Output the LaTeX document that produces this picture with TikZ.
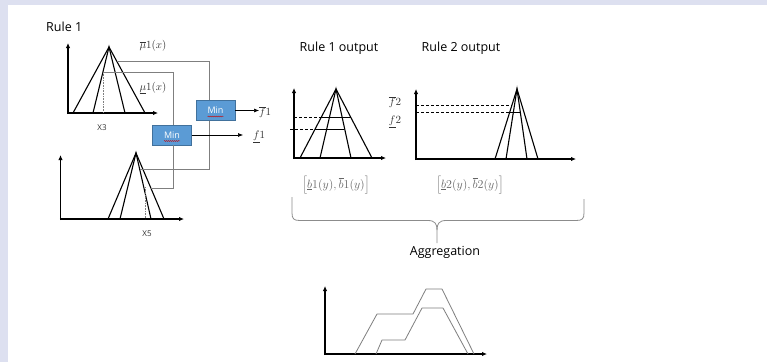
\documentclass[tikz,border=0pt]{standalone}
\usepackage{fontspec}
\setsansfont{Open Sans}
\usetikzlibrary{arrows.meta,decorations.pathmorphing,calc}
\definecolor{bandc}{HTML}{DDE0F0}
\definecolor{minfill}{HTML}{5B9BD5}
\definecolor{minedge}{HTML}{41719C}
\definecolor{wirec}{HTML}{7F7F7F}
\definecolor{lbl}{HTML}{333333}
\definecolor{bracec}{HTML}{8C8C8C}
\begin{document}
\begin{tikzpicture}[x=1pt,y=-1pt,
  axis/.style={line width=1.4pt,-{Latex[length=5pt,width=4.5pt]}},
  tri/.style={line width=1.1pt,line join=miter},
  wire/.style={draw=wirec,line width=0.7pt},
  minbox/.style={draw=minedge,fill=minfill,line width=0.6pt,minimum width=39pt,minimum height=20pt,inner sep=0pt,text=white,font=\sffamily\fontsize{9}{10}\selectfont},
  title/.style={font=\sffamily\fontsize{12.5}{14}\selectfont,inner sep=0pt},
  small/.style={font=\sffamily\fontsize{8}{9}\selectfont,inner sep=0pt,text=lbl},
  mlab/.style={inner sep=0pt,font=\fontsize{11}{13}\selectfont,text=lbl},
  ilab/.style={inner sep=0pt,font=\fontsize{12.5}{14}\selectfont,text=lbl!75},
  outarrow/.style={line width=0.6pt,-{Latex[length=5pt,width=4pt]}},
  dashln/.style={dash pattern=on 3pt off 2pt,line width=0.8pt},
  solidln/.style={line width=0.8pt},
  squiggle/.style={red!80!black,line width=0.4pt,decorate,decoration={snake,amplitude=0.5pt,segment length=2pt}},
  aggl/.style={draw=wirec,line width=0.8pt,line join=round}
]
\fill[white] (0,0) rectangle (767,362);
\fill[bandc] (0,0) rectangle (767,5);
\fill[bandc] (0,0) rectangle (8,362);
\useasboundingbox (0,0) rectangle (767,362);

% ---------- Rule 1 inputs ----------
\node[title,anchor=west] (r1) at (46,27) {Rule 1};

% top input graph
\draw[axis] (68,114) -- (68,43);
\draw[axis] (67.3,113) -- (158,113);
\coordinate (a1) at (109,47);
\draw[tri] (73,113) -- (a1) -- (145,113);
\draw[tri] (93,113) -- (a1) -- (125,113);
\coordinate (t1a) at (117,61);
\coordinate (t1b) at (103,72);
\draw[wirec,line width=0.6pt,densely dotted] (t1b) -- (103,113);
\node[small] (x3) at (102,128) {X3};
\node[mlab] (mu1) at (153,46) {$\overline{\mu}1(x)$};
\node[mlab] (mu2) at (153,88) {$\underline{\mu}1(x)$};

% bottom input graph
\draw[axis] (60.5,220) -- (60.5,155);
\draw[axis] (59.8,219) -- (184,219);
\coordinate (a2) at (136,153);
\draw[tri] (108,219) -- (a2) -- (164,219);
\draw[tri] (120,219) -- (a2) -- (151,219);
\draw[line width=1.8pt] (120,219) -- (151,219);
\coordinate (b1a) at (140,169);
\coordinate (b1b) at (150,188);
\draw[wirec,line width=0.6pt,densely dotted] (145,187) -- (145,219);
\node[small] (x5) at (147,234) {X5};

% Min boxes
\node[minbox] (minU) at (215.5,110.5) {Min};
\node[minbox] (minL) at (172,135) {Min};
\draw[squiggle] ($(minU.center)+(-8,6)$) -- ($(minU.center)+(8,6)$);
\draw[squiggle] ($(minL.center)+(-8,6)$) -- ($(minL.center)+(8,6)$);

\coordinate (wu) at (209,61);
\coordinate (wl) at (173,72);
\draw[wire] (t1a) -- (wu) -- (wu |- minU.north);
\draw[wire] (t1b) -- (wl) -- (wl |- minL.north);
\draw[wire] (minU.south -| wu) -- (wu |- b1a) -- (b1a);
\draw[wire] (minL.south -| wl) -- (wl |- b1b) -- (b1b);

% outputs f1
\node[mlab,anchor=west] (fU) at (259,112) {$\overline{f}1$};
\node[mlab,anchor=west] (fL) at (253,137) {$\underline{f}1$};
\draw[outarrow] (minU.east) -- (minU.east -| fU.west);
\draw[outarrow,shorten >=10pt] (minL.east) -- (minL.east -| fL.west);

% ---------- Rule outputs ----------
\node[title] (ro1) at (339,48) {Rule 1 output};
\node[title] (ro2) at (461,48) {Rule 2 output};

% rule 1 output graph
\draw[axis] (294,159) -- (294,88);
\draw[axis] (293.3,158) -- (386,158);
\coordinate (a3) at (336,89);
\draw[tri] (300,158) -- (a3) -- (372,158);
\draw[tri] (320,158) -- (a3) -- (351,158);
\draw[dashln] (294,117) -- (321,117);
\draw[solidln] (321,117) -- (351,117);
\draw[dashln] (290,129) -- (316,129);
\draw[solidln] (316,129) -- (344,129);
\node[ilab] (int1) at (336,185) {$\left[\underline{b}1(y),\overline{b}1(y)\right]$};

% rule 2 output graph
\node[mlab] (f2u) at (395,102) {$\overline{f}2$};
\node[mlab] (f2l) at (395,122) {$\underline{f}2$};
\draw[axis] (416,160) -- (416,89);
\draw[axis] (415.3,159) -- (576,159);
\coordinate (a4) at (517,89);
\draw[tri] (495,159) -- (a4) -- (538,159);
\draw[tri] (506,159) -- (a4) -- (527,159);
\draw[dashln] (416,105) -- (512,105);
\draw[dashln] (416,112) -- (510,112);
\draw[solidln] (510,112) -- (521,112);
\node[ilab] (int2) at (470,185) {$\left[\underline{b}2(y),\overline{b}2(y)\right]$};

% brace
\coordinate (btip) at (437,243);
\draw[draw=bracec,line width=0.8pt] (292,197) -- (292,213) .. controls (292,219) and (294,220.5) .. (300,220.5) -- (428,220.5) .. controls (435,220.5) and (437,224) .. (437,230) -- (btip);
\draw[draw=bracec,line width=0.8pt] (584,199) -- (584,213) .. controls (584,219) and (582,220.5) .. (576,220.5) -- (446,220.5) .. controls (439,220.5) and (437,224) .. (437,230);
\node[title] (agg) at (445,252) {Aggregation};

% aggregation graph
\draw[axis] (325,355) -- (325,286);
\draw[axis] (324.3,354) -- (487,354);
\draw[aggl] (355,354) -- (377,314) -- (413,314) -- (426,289) -- (442,289) -- (474,354);
\draw[aggl] (376,354) -- (382,340) -- (405,340) -- (422,308) -- (443,308) -- (468,354);
\end{tikzpicture}
\end{document}
